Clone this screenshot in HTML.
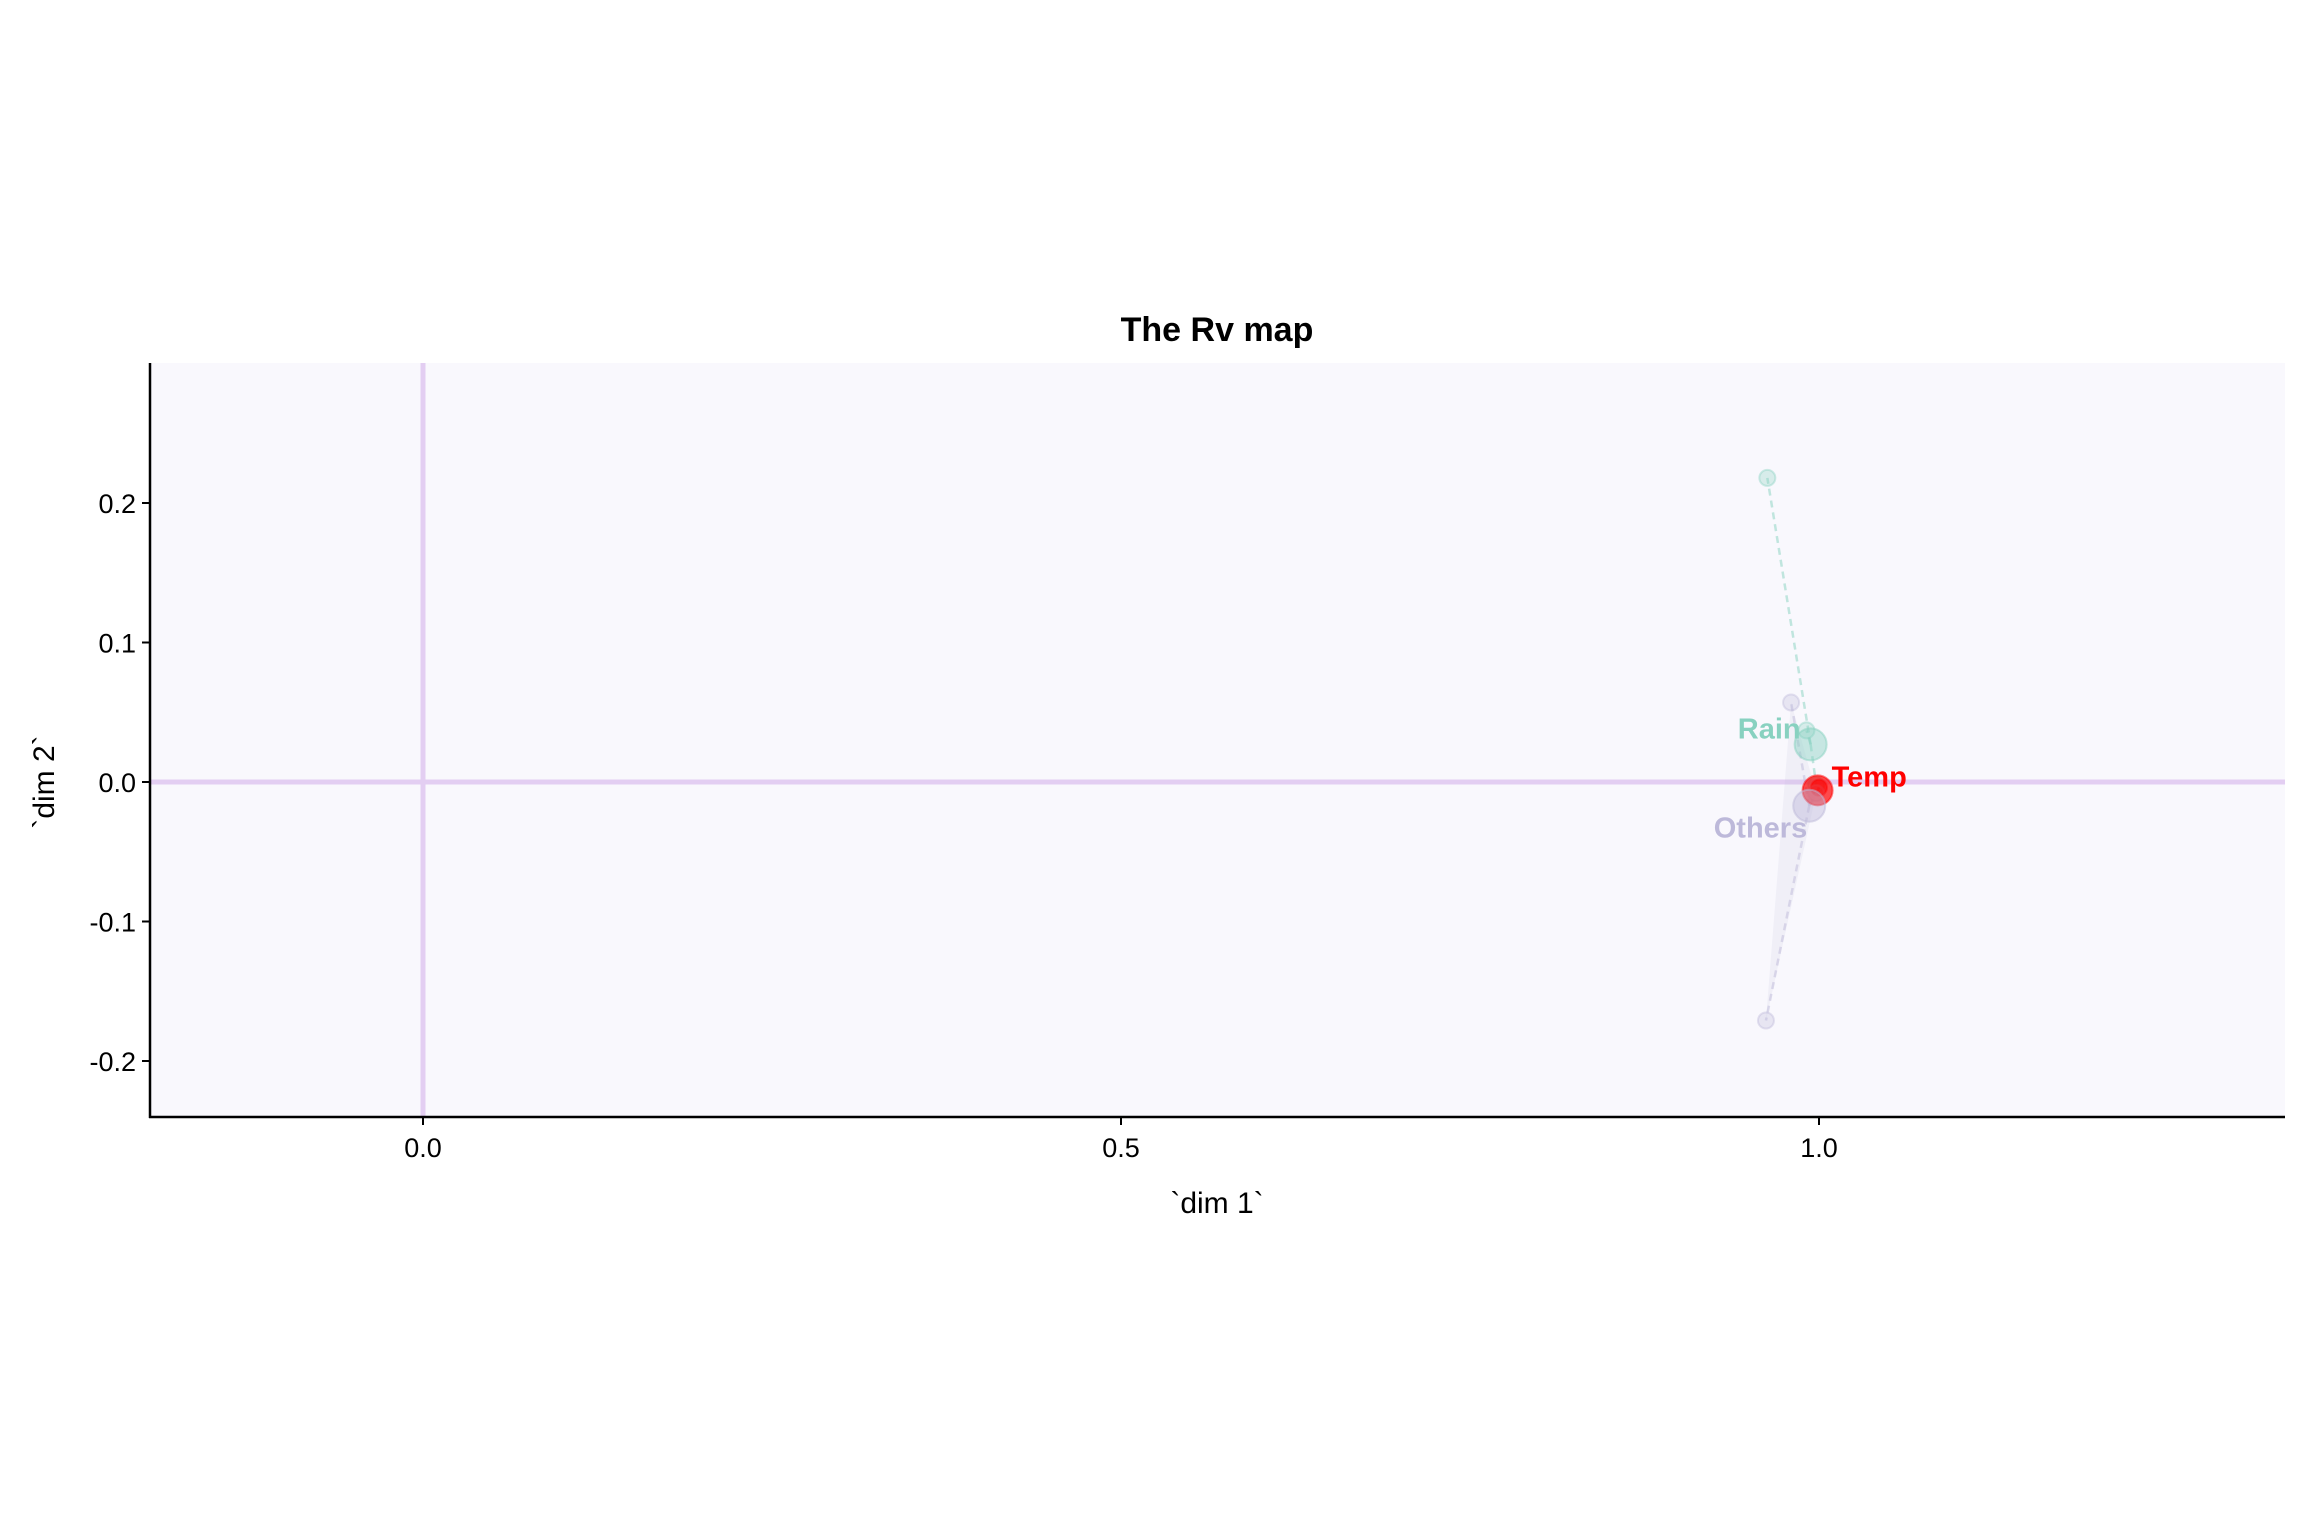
<!DOCTYPE html>
<html><head><meta charset="utf-8"><style>
html,body{margin:0;padding:0;background:#fff;}
svg{display:block;font-family:"Liberation Sans",sans-serif;}
</style></head><body>
<svg id="chart" width="2304" height="1536" viewBox="0 0 2304 1536">
<rect x="0" y="0" width="2304" height="1536" fill="#fff"/>
<rect x="150" y="363" width="2135" height="754" fill="#f9f8fd"/>
<g id="refs"></g><g id="marks"></g><g id="axes"></g>
<text x="1217" y="341" font-size="34" font-weight="bold" text-anchor="middle">The Rv map</text>
<text x="1217" y="1213" font-size="30" text-anchor="middle">`dim 1`</text>
<text transform="translate(54,782) rotate(-90)" font-size="30" text-anchor="middle">`dim 2`</text>
</svg>
<script>
const xTicks=[0.0,0.5,1.0];
const xTickLabels=["0.0","0.5","1.0"];
const yTicks=[-0.2,-0.1,0.0,0.1,0.2];
const yTickLabels=["-0.2","-0.1","0.0","0.1","0.2"];
const groups=["Rain","Temp","Others"];
const centerX=[0.994,0.999,0.993];
const centerY=[0.027,-0.006,-0.017];
const rainPartialX=[0.963,0.991,0.998];
const rainPartialY=[0.218,0.037,-0.002];
const othersPartialX=[0.980,0.962,0.998];
const othersPartialY=[0.057,-0.171,-0.008];
const tempPartialX=[1.0];
const tempPartialY=[-0.004];

const L=150,R=2285,T=363,B=1117;
const sx=v=>423+v*1396;
const sy=v=>782-v*1395;
const NS="http://www.w3.org/2000/svg";
function mk(tag,attrs,parent){const e=document.createElementNS(NS,tag);for(const k in attrs)e.setAttribute(k,attrs[k]);parent.appendChild(e);return e;}
const refs=document.getElementById('refs'),marks=document.getElementById('marks'),axes=document.getElementById('axes');
let e;
e=mk('line',{x1:sx(0),x2:sx(0),y1:T,y2:B,stroke:'#e3cef2','stroke-width':5},refs);


e=mk('line',{x1:L,x2:R,y1:sy(0),y2:sy(0),stroke:'#e3cef2','stroke-width':5},refs);



const colors=["#88d1c0","#ff0000","#bdb9da"];
const partX=[rainPartialX,tempPartialX,othersPartialX];
const partY=[rainPartialY,tempPartialY,othersPartialY];
e=mk('polygon',{points:othersPartialX.map((v,i)=>sx(v)+','+sy(othersPartialY[i])).join(' '),fill:'#bdb9da','fill-opacity':0.15},marks);


groups.forEach((g,gi)=>{
  partX[gi].forEach((px,i)=>{
    const py=partY[gi][i];
    e=mk('line',{x1:sx(centerX[gi]),y1:sy(centerY[gi]),x2:sx(px),y2:sy(py),stroke:colors[gi],'stroke-opacity':0.5,'stroke-width':2.5,'stroke-dasharray':'7 5'},marks);
    
    
    e=mk('circle',{cx:sx(px),cy:sy(py),r:8,fill:colors[gi],'fill-opacity':gi==1?0.6:0.3,stroke:colors[gi],'stroke-opacity':0.4,'stroke-width':2},marks);
    
    
  });
});
groups.forEach((g,gi)=>{
  e=mk('circle',{cx:sx(centerX[gi]),cy:sy(centerY[gi]),r:gi==1?15:16,fill:colors[gi],'fill-opacity':gi==1?0.7:0.45,stroke:colors[gi],'stroke-opacity':0.5,'stroke-width':2},marks);
  
  
});
const lab=[{dx:-10,dy:-6,a:'end'},{dx:14,dy:-4,a:'start'},{dx:-2,dy:32,a:'end'}];
groups.forEach((g,gi)=>{
  e=mk('text',{x:sx(centerX[gi])+lab[gi].dx,y:sy(centerY[gi])+lab[gi].dy,'font-size':29,'font-weight':'bold',fill:colors[gi],'text-anchor':lab[gi].a},marks);
  e.textContent=g;
  
  
});
e=mk('line',{x1:L,x2:L,y1:T,y2:B+1,stroke:'#000','stroke-width':2.5},axes);


e=mk('line',{x1:L-1,x2:R,y1:B,y2:B,stroke:'#000','stroke-width':2.5},axes);


xTicks.forEach((v,i)=>{
  e=mk('line',{x1:sx(v),x2:sx(v),y1:B,y2:B+8,stroke:'#000','stroke-width':2},axes);
  
  
  e=mk('text',{x:sx(v),y:B+40,'font-size':27,'text-anchor':'middle'},axes);
  e.textContent=xTickLabels[i];
  
  
});
yTicks.forEach((v,i)=>{
  e=mk('line',{x1:L-8,x2:L,y1:sy(v),y2:sy(v),stroke:'#000','stroke-width':2},axes);
  
  
  e=mk('text',{x:L-14,y:sy(v)+10,'font-size':27,'text-anchor':'end'},axes);
  e.textContent=yTickLabels[i];
  
  
});
</script>
</body></html>
